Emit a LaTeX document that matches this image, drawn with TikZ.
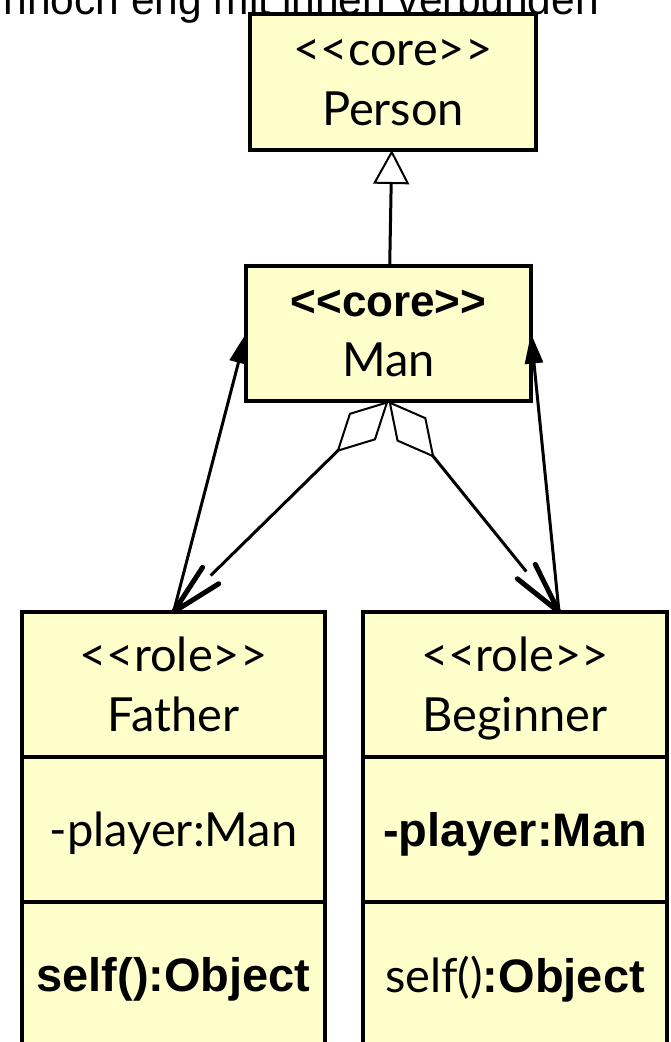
\documentclass[tikz,border=0pt]{standalone}
\usepackage{fontspec}
\newfontfamily\latofont{Lato}[Ligatures=TeXOff]
\newfontfamily\arialfont{Liberation Sans}[Ligatures=TeXOff]
\usepackage{xcolor}
\usepackage{tikz}
\usetikzlibrary{arrows.meta, positioning, calc}
\definecolor{umlyellow}{HTML}{FFFFCC}

\pgfdeclarearrow{
  name = Open Stick,
  parameters = {\the\pgfarrowlength,\the\pgfarrowwidth},
  setup code = {
    \pgfarrowssettipend{0pt}
    \pgfarrowssetlineend{-\pgfarrowlength}
    \pgfarrowssetbackend{-\pgfarrowlength}
    \pgfarrowssavethe\pgfarrowlength
    \pgfarrowssavethe\pgfarrowwidth
  },
  drawing code = {
    \pgfsetlinewidth{5pt}
    \pgfsetroundcap
    \pgfsetroundjoin
    \pgfpathmoveto{\pgfqpoint{-\pgfarrowlength}{.5\pgfarrowwidth}}
    \pgfpathlineto{\pgfpointorigin}
    \pgfpathlineto{\pgfqpoint{-\pgfarrowlength}{-.5\pgfarrowwidth}}
    \pgfusepathqstroke
  },
  defaults = {length=52pt, width=23pt}
}

\begin{document}
\begin{tikzpicture}[x=1pt, y=-1pt, line width=3pt]
    \tikzset{cls/.style={draw, line width=4pt, fill=umlyellow, align=center, inner sep=0pt, outer sep=0pt,
                         text depth=0pt, font=\latofont\fontsize{47}{60}\selectfont},
             bold/.style={font=\arialfont\bfseries\fontsize{47}{60}\selectfont},
             gen/.style={-{Triangle[open, length=34pt, width=36pt, line width=2pt, fill=white]}},
             nav/.style={-{Triangle[length=30pt, width=18pt]}},
             agg/.style={{Diamond[open, length=73pt, width=38pt, line width=2pt]}-{Open Stick}}}
    \useasboundingbox (0,0) rectangle (670,1042);
    \clip (0,0) rectangle (670,1042);
    \node[anchor=base west, inner sep=0pt, font=\arialfont\fontsize{42.5}{50}\selectfont] (note) at (2,14) {nnoch eng mit ihnen verbunden};
    \node[cls, minimum width=286pt, minimum height=136pt] (person) at (393,82) {<<core>>\\Person};
    \node[cls, minimum width=285pt, minimum height=135pt] (man) at (388.5,333.5) {{\arialfont\bfseries\fontsize{44}{60}\selectfont <<core>>}\\Man};
    \node[cls, minimum width=303pt, minimum height=145pt] (father) at (173.5,684.5) {<<role>>\\Father};
    \node[cls, minimum width=303pt, minimum height=145pt, below=0pt of father] (fatherattr) {-player:Man};
    \node[cls, minimum width=303pt, minimum height=145pt, below=0pt of fatherattr, bold] (fatherops) {self():Object};
    \node[cls, minimum width=304pt, minimum height=145pt] (beginner) at (515,684.5) {<<role>>\\Beginner};
    \node[cls, minimum width=304pt, minimum height=145pt, below=0pt of beginner, bold] (beginnerattr) {-player:Man};
    \node[cls, minimum width=304pt, minimum height=145pt, below=0pt of beginnerattr] (beginnerops) {self(){\arialfont\bfseries :Object}};
    \coordinate (begintip) at ([xshift=44pt]beginner.north);
    \draw[gen] (man) -- (person);
    \draw[nav] (father.north) -- (man.west);
    \draw[nav] (begintip) -- (man.east);
    \draw[agg] (man.south) -- (father.north);
    \draw[agg] (man.south) -- (begintip);
\end{tikzpicture}
\end{document}
